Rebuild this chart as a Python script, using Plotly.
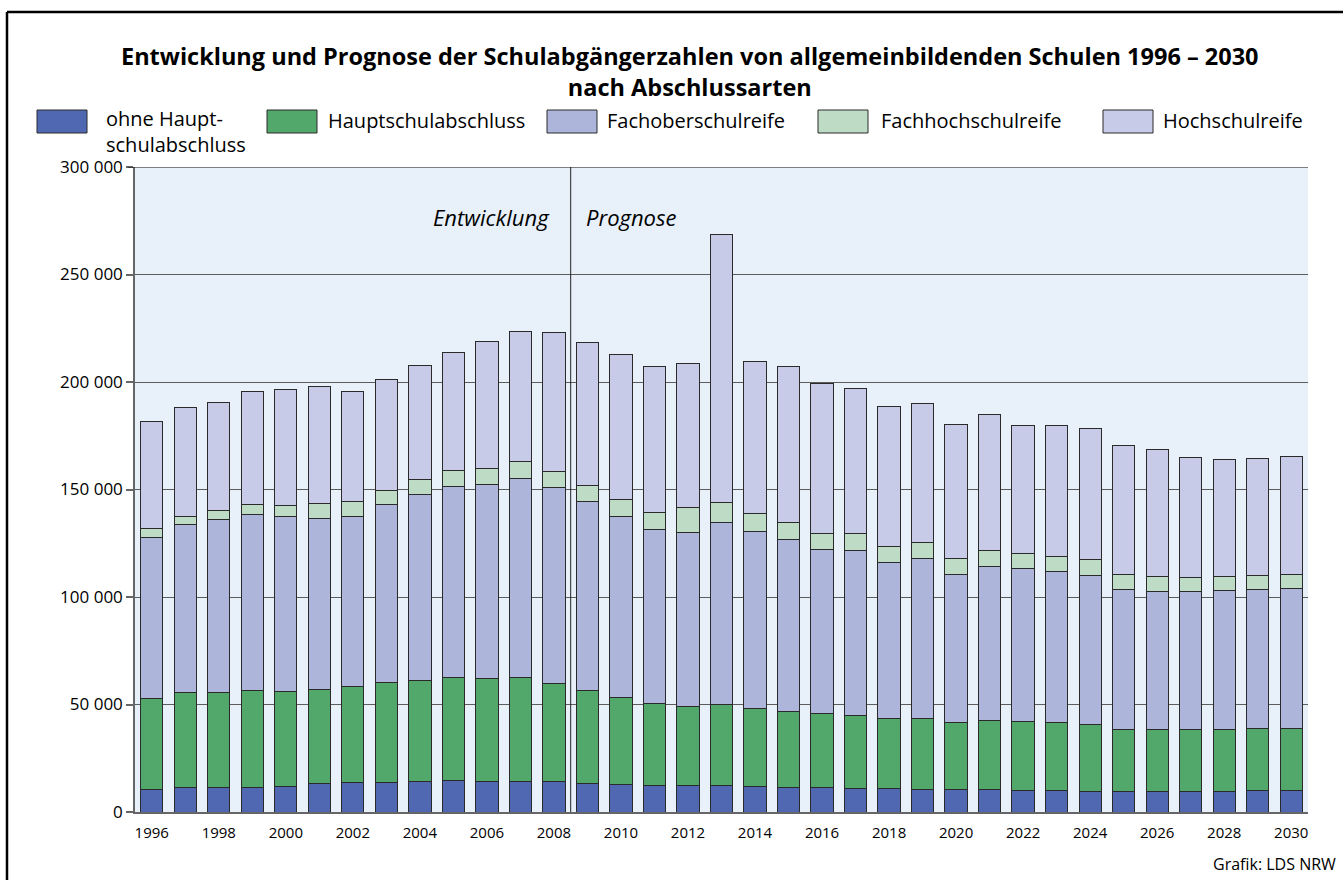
import plotly.graph_objects as go

years = list(range(1996, 2031))

ohne_hauptschulabschluss = [10600, 11300, 11300, 11300, 11800, 13400, 13700, 13700, 14300, 14600,
                            14300, 14400, 14000, 13300, 12600, 12300, 12400, 12300, 11900, 11400,
                            11400, 10800, 10800, 10500, 10400, 10400, 10100, 9900, 9600, 9600,
                            9600, 9500, 9600, 9800, 9800]
hauptschulabschluss = [42200, 44300, 44300, 45100, 44100, 43800, 44500, 46600, 46700, 48000,
                       48000, 48200, 45900, 43400, 40600, 38000, 36900, 37500, 36300, 35500,
                       34300, 34200, 32800, 33100, 31100, 32100, 31900, 31500, 31000, 29000,
                       28800, 28900, 29000, 29100, 29100]
fachoberschulreife = [75000, 78000, 80300, 81800, 81700, 79500, 79400, 82600, 86700, 89000,
                      89900, 92700, 90900, 87500, 84100, 81300, 80800, 85000, 82300, 79700,
                      76300, 76600, 72500, 74100, 69000, 71700, 71200, 70400, 69600, 64900,
                      64100, 64100, 64300, 64500, 65000]
fachhochschulreife = [3900, 3700, 4300, 4700, 5000, 6600, 7000, 6700, 7000, 7100,
                      7600, 7600, 7800, 7800, 8000, 7800, 11300, 9200, 8200, 8000,
                      7600, 7800, 7600, 7500, 7300, 7200, 7100, 7100, 7100, 7000,
                      6900, 6600, 6500, 6700, 6600]
hochschulreife = [50000, 50800, 50200, 52600, 53700, 54400, 51200, 51400, 52800, 54900,
                  58900, 60400, 64300, 66300, 67500, 67900, 67300, 124800, 70900, 72400,
                  69900, 67800, 65100, 65000, 62500, 63500, 59300, 61100, 61000, 60200,
                  59400, 55800, 54700, 54500, 54900]

series_names = ["ohne Hauptschulabschluss", "Hauptschulabschluss", "Fachoberschulreife",
                "Fachhochschulreife", "Hochschulreife"]
legend_labels = ["ohne Haupt-<br>schulabschluss", "Hauptschulabschluss", "Fachoberschulreife",
                 "Fachhochschulreife", "Hochschulreife"]
series_values = [ohne_hauptschulabschluss, hauptschulabschluss, fachoberschulreife,
                 fachhochschulreife, hochschulreife]
colors = ["#5068B2", "#52A86B", "#AEB5DB", "#BEDCC5", "#C8CBE7"]

y_tickvals = [0, 50000, 100000, 150000, 200000, 250000, 300000]
y_ticktext = ["0", "50 000", "100 000", "150 000", "200 000", "250 000", "300 000"]
x_tickvals = list(range(1996, 2031, 2))

FONT = "Open Sans"
W, H = 1343, 880
L, R, T, B = 135, 35, 167, 68
PW, PH = W - L - R, H - T - B


def px(x):
    return (x - L) / PW


def py(y):
    return (H - B - y) / PH


fig = go.Figure()
for name, vals, col in zip(series_names, series_values, colors):
    fig.add_trace(go.Bar(x=years, y=vals, name=name, marker_color=col,
                         marker_line_color="#2a2a2a", marker_line_width=1,
                         showlegend=False))

shapes = []
# separator Entwicklung / Prognose
shapes.append(dict(type="line", xref="x", yref="y", x0=2008.5, x1=2008.5, y0=0, y1=300000,
                   line=dict(color="#222222", width=1), layer="above"))
# top gridline in black
shapes.append(dict(type="line", xref="paper", yref="y", x0=px(128), x1=1, y0=300000, y1=300000,
                   line=dict(color="#111111", width=1.2), layer="above"))
# frame
shapes.append(dict(type="line", xref="paper", yref="paper", x0=px(7), x1=px(1360),
                   y0=py(12), y1=py(12), line=dict(color="black", width=2.5)))
shapes.append(dict(type="line", xref="paper", yref="paper", x0=px(7), x1=px(7),
                   y0=py(12), y1=py(900), line=dict(color="black", width=2.5)))

annotations = []
LEG_FS = 20
legend_box_x = [37, 267, 547, 818, 1103]
legend_text_x = [104, 326, 605, 879, 1161]
for i, (bx, tx, col) in enumerate(zip(legend_box_x, legend_text_x, colors)):
    shapes.append(dict(type="rect", xref="paper", yref="paper", x0=px(bx), x1=px(bx + 50),
                       y0=py(133), y1=py(110), fillcolor=col,
                       line=dict(color="#2a2a2a", width=1)))
    if i == 0:
        annotations.append(dict(xref="paper", yref="paper", x=px(tx), y=py(103),
                                xanchor="left", yanchor="top", text=legend_labels[i],
                                showarrow=False, align="left",
                                font=dict(family=FONT, size=LEG_FS, color="black")))
    else:
        annotations.append(dict(xref="paper", yref="paper", x=px(tx), y=py(121), xanchor="left",
                                yanchor="middle", text=legend_labels[i], showarrow=False,
                                font=dict(family=FONT, size=LEG_FS, color="black")))

annotations.append(dict(xref="paper", yref="paper", x=px(690), y=py(72), xanchor="center",
                        yanchor="middle", align="center",
                        text="<b>Entwicklung und Prognose der Schulabgängerzahlen von allgemeinbildenden Schulen 1996 – 2030<br>nach Abschlussarten</b>",
                        showarrow=False,
                        font=dict(family=FONT, size=23.5, color="black")))
annotations.append(dict(xref="paper", yref="paper", x=px(552), y=py(217), xanchor="right",
                        yanchor="middle", text="<i>Entwicklung</i>", showarrow=False,
                        font=dict(family=FONT, size=22, color="black")))
annotations.append(dict(xref="paper", yref="paper", x=px(584), y=py(217), xanchor="left",
                        yanchor="middle", text="<i>Prognose</i>", showarrow=False,
                        font=dict(family=FONT, size=22, color="black")))
annotations.append(dict(xref="paper", yref="paper", x=px(1338), y=py(864), xanchor="right",
                        yanchor="middle", text="Grafik: LDS NRW", showarrow=False,
                        font=dict(family=FONT, size=16, color="black")))

fig.update_layout(
    width=W, height=H, autosize=False,
    margin=dict(l=L, r=R, t=T, b=B, pad=0),
    barmode="stack", bargap=0.335,
    plot_bgcolor="#E8F0FA", paper_bgcolor="white",
    font=dict(family=FONT, color="black"),
    shapes=shapes, annotations=annotations,
    showlegend=False,
)
fig.update_xaxes(range=[1995.5, 2030.5], tickvals=x_tickvals, ticks="", showgrid=False,
                 zeroline=False, showline=True, linecolor="#666666", linewidth=1.5,
                 tickfont=dict(family=FONT, size=15, color="black"), ticklabelstandoff=6)
fig.update_yaxes(range=[0, 300000], tickvals=y_tickvals, ticktext=y_ticktext,
                 showgrid=True, gridcolor="#5c5c5c", gridwidth=1, zeroline=False,
                 showline=True, linecolor="#666666", linewidth=1.5,
                 ticks="outside", ticklen=7, tickcolor="#666666", tickwidth=1.5,
                 tickfont=dict(family=FONT, size=17, color="black"))

fig.write_html("out.html", config={"displayModeBar": False},
               post_script="document.body.style.margin='0';document.body.style.overflow='hidden';")
